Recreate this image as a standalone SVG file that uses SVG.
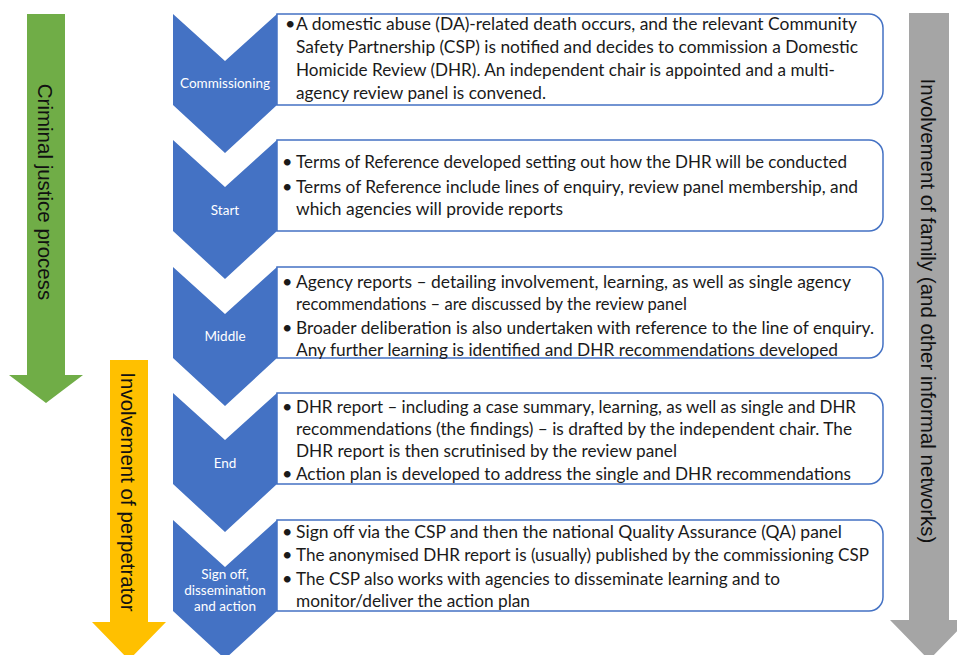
<svg xmlns="http://www.w3.org/2000/svg" width="957" height="655" viewBox="0 0 957 655">
<style>
.chev{fill:#4472c4}
.box{fill:#ffffff;stroke:#4472c4;stroke-width:1.5}
.lbl{font-family:Lato,"Liberation Sans",sans-serif;font-size:13.5px;fill:#ffffff;text-anchor:middle}
.t{font-family:Lato,"Liberation Sans",sans-serif;font-size:18px;fill:#1a1a1a}
.side{font-family:"Liberation Sans",Arial,sans-serif;font-size:20.5px;fill:#111111;text-anchor:middle}
</style>
<rect width="957" height="655" fill="#ffffff"/>
<g id="arrow-criminal">
<polygon points="27,14 65,14 65,375 83,375 46,403 9,375 27,375" fill="#70ad47"/>
<text class="side" transform="translate(38,192) rotate(90)">Criminal justice process</text>
</g>
<g id="arrow-perpetrator">
<polygon points="110,360 148,360 148,622 166,622 129,660 92,622 110,622" fill="#ffc000"/>
<text class="side" transform="translate(121,492) rotate(90)">Involvement of perpetrator</text>
</g>
<g id="arrow-family">
<polygon points="909,13 949,13 949,620 968,620 929,660 890,620 909,620" fill="#a5a5a5"/>
<text class="side" transform="translate(921,311) rotate(90)">Involvement of family (and other informal networks)</text>
</g>
<g id="commissioning">
<path class="box" d="M277,14 H869 A14,14 0 0 1 883,28 V91 A14,14 0 0 1 869,105 H277 Z"/>
<polygon class="chev" points="173,14 225,61 277,14 277,105 225,153 173,105"/>
<text class="lbl" x="225" y="88">Commissioning</text>
<text class="t" x="285" y="30">•</text>
<text class="t" x="296" y="30" textLength="561" lengthAdjust="spacingAndGlyphs">A domestic abuse (DA)-related death occurs, and the relevant Community</text>
<text class="t" x="296" y="53" textLength="562" lengthAdjust="spacingAndGlyphs">Safety Partnership (CSP) is notified and decides to commission a Domestic</text>
<text class="t" x="296" y="76" textLength="539" lengthAdjust="spacingAndGlyphs">Homicide Review (DHR). An independent chair is appointed and a multi-</text>
<text class="t" x="296" y="99" textLength="250" lengthAdjust="spacingAndGlyphs">agency review panel is convened.</text>
</g>
<g id="start">
<path class="box" d="M277,140 H869 A14,14 0 0 1 883,154 V217 A14,14 0 0 1 869,231 H277 Z"/>
<polygon class="chev" points="173,140 225,187 277,140 277,231 225,279 173,231"/>
<text class="lbl" x="225" y="215">Start</text>
<text class="t" x="282" y="168">•</text>
<text class="t" x="296" y="168" textLength="551" lengthAdjust="spacingAndGlyphs">Terms of Reference developed setting out how the DHR will be conducted</text>
<text class="t" x="282" y="193">•</text>
<text class="t" x="296" y="193" textLength="562" lengthAdjust="spacingAndGlyphs">Terms of Reference include lines of enquiry, review panel membership, and</text>
<text class="t" x="296" y="215" textLength="267" lengthAdjust="spacingAndGlyphs">which agencies will provide reports</text>
</g>
<g id="middle">
<path class="box" d="M277,267 H869 A14,14 0 0 1 883,281 V344 A14,14 0 0 1 869,358 H277 Z"/>
<polygon class="chev" points="173,267 225,314 277,267 277,358 225,406 173,358"/>
<text class="lbl" x="225" y="341">Middle</text>
<text class="t" x="282" y="288">•</text>
<text class="t" x="296" y="288" textLength="555" lengthAdjust="spacingAndGlyphs">Agency reports – detailing involvement, learning, as well as single agency</text>
<text class="t" x="296" y="310" textLength="391" lengthAdjust="spacingAndGlyphs">recommendations – are discussed by the review panel</text>
<text class="t" x="282" y="334">•</text>
<text class="t" x="296" y="334" textLength="578" lengthAdjust="spacingAndGlyphs">Broader deliberation is also undertaken with reference to the line of enquiry.</text>
<text class="t" x="296" y="356" textLength="542" lengthAdjust="spacingAndGlyphs">Any further learning is identified and DHR recommendations developed</text>
</g>
<g id="end">
<path class="box" d="M277,393 H869 A14,14 0 0 1 883,407 V470 A14,14 0 0 1 869,484 H277 Z"/>
<polygon class="chev" points="173,393 225,440 277,393 277,484 225,532 173,484"/>
<text class="lbl" x="225" y="468">End</text>
<text class="t" x="282" y="413">•</text>
<text class="t" x="296" y="413" textLength="560" lengthAdjust="spacingAndGlyphs">DHR report – including a case summary, learning, as well as single and DHR</text>
<text class="t" x="296" y="435" textLength="556" lengthAdjust="spacingAndGlyphs">recommendations (the findings) – is drafted by the independent chair. The</text>
<text class="t" x="296" y="457" textLength="381" lengthAdjust="spacingAndGlyphs">DHR report is then scrutinised by the review panel</text>
<text class="t" x="282" y="480">•</text>
<text class="t" x="296" y="480" textLength="555" lengthAdjust="spacingAndGlyphs">Action plan is developed to address the single and DHR recommendations</text>
</g>
<g id="signoff">
<path class="box" d="M277,520 H869 A14,14 0 0 1 883,534 V597 A14,14 0 0 1 869,611 H277 Z"/>
<polygon class="chev" points="173,520 225,567 277,520 277,611 225,659 173,611"/>
<text class="lbl" x="225" y="579">Sign off,</text>
<text class="lbl" x="225" y="595">dissemination</text>
<text class="lbl" x="225" y="611">and action</text>
<text class="t" x="282" y="538">•</text>
<text class="t" x="296" y="538" textLength="546" lengthAdjust="spacingAndGlyphs">Sign off via the CSP and then the national Quality Assurance (QA) panel</text>
<text class="t" x="282" y="561">•</text>
<text class="t" x="296" y="561" textLength="573" lengthAdjust="spacingAndGlyphs">The anonymised DHR report is (usually) published by the commissioning CSP</text>
<text class="t" x="282" y="585">•</text>
<text class="t" x="296" y="585" textLength="484" lengthAdjust="spacingAndGlyphs">The CSP also works with agencies to disseminate learning and to</text>
<text class="t" x="296" y="607" textLength="234" lengthAdjust="spacingAndGlyphs">monitor/deliver the action plan</text>
</g>
<g id="connectors"></g>
</svg>
